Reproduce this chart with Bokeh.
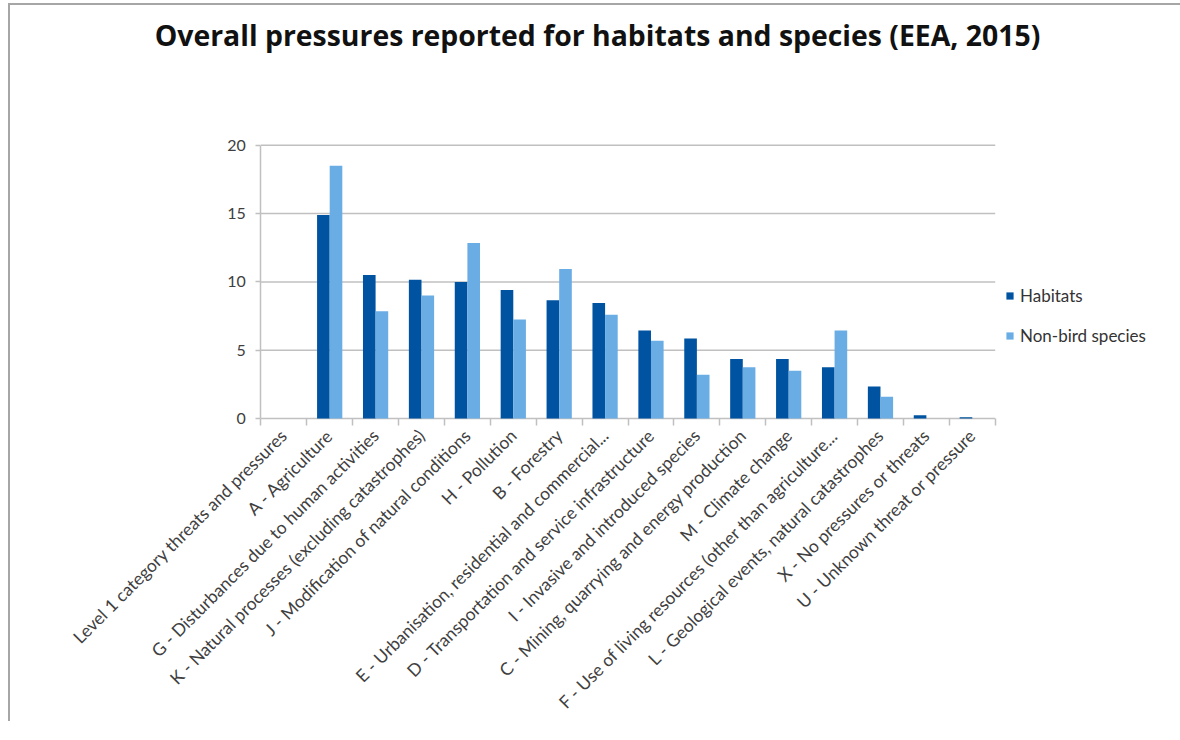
from math import pi
from bokeh.plotting import figure
from bokeh.models import (ColumnDataSource, Range1d, FixedTicker, Legend, LegendItem, Label)
from bokeh.transform import dodge
from bokeh.embed import file_html
from bokeh.resources import INLINE

# ---------------- data ----------------
categories = [
    "Level 1 category threats and pressures",
    "A - Agriculture",
    "G - Disturbances due to human activities",
    "K - Natural processes (excluding catastrophes)",
    "J - Modification of natural conditions",
    "H - Pollution",
    "B - Forestry",
    "E - Urbanisation, residential and commercial...",
    "D - Transportation and service infrastructure",
    "I - Invasive and introduced species",
    "C - Mining, quarrying and energy production",
    "M - Climate change",
    "F - Use of living resources (other than agriculture...",
    "L - Geological events, natural catastrophes",
    "X - No pressures or threats",
    "U - Unknown threat or pressure",
]
habitats = [0, 14.9, 10.5, 10.15, 10.0, 9.4, 8.65, 8.45, 6.45, 5.85, 4.35, 4.35, 3.75, 2.35, 0.25, 0.1]
non_bird = [0, 18.5, 7.85, 9.0, 12.85, 7.25, 10.95, 7.6, 5.7, 3.2, 3.75, 3.5, 6.45, 1.6, 0, 0]
y_ticks = [0, 5, 10, 15, 20]
series_names = ["Habitats", "Non-bird species"]
title_text = "Overall pressures reported for habitats and species (EEA, 2015)"

DARK = "#0053A1"
LIGHT = "#6AADE4"
GRID = "#C0C0C0"
TXT = "#404040"
FONT = "Lato"

n = len(categories)
centers = [i + 0.5 for i in range(n)]
src = ColumnDataSource(dict(pos=centers, cat=categories, habitats=habitats, non_bird=non_bird))
grid_src = ColumnDataSource(dict(y=y_ticks, x0=[0] * len(y_ticks), x1=[n] * len(y_ticks)))

# The plot frame spans the whole free area (title and legend live inside it);
# the y axis is pinned to the data origin and both axes are bounded to the data area.
p = figure(
    x_range=Range1d(-4.147, 20.08),
    y_range=Range1d(-0.507, 30.22),
    width=1170, height=716,
    output_backend="svg", toolbar_location=None,
    title=None,
    min_border_left=60, min_border_right=0,
    min_border_top=0, min_border_bottom=292,
)
p.margin = (3, 0, 0, 8)
p.styles = {"border-left": "2px solid #A6A6A6", "border-top": "2px solid #A6A6A6",
            "box-sizing": "content-box", "overflow": "hidden"}
p.outline_line_color = None
p.background_fill_color = "white"
p.border_fill_color = "white"
p.xgrid.visible = False
p.ygrid.visible = False

# horizontal gridlines (the one at 0 is the category axis line)
p.segment(x0="x0", x1="x1", y0="y", y1="y", source=grid_src,
          line_color=GRID, line_width=1.5)

bw = 0.275
r1 = p.vbar(x=dodge("pos", -bw / 2), top="habitats", width=bw,
            source=src, fill_color=DARK, line_color=None)
r2 = p.vbar(x=dodge("pos", bw / 2), top="non_bird", width=bw,
            source=src, fill_color=LIGHT, line_color=None)

# y axis
ya = p.yaxis[0]
ya.fixed_location = 0
ya.ticker = FixedTicker(ticks=y_ticks)
ya.bounds = (y_ticks[0], y_ticks[-1])
ya.axis_line_color = GRID
ya.axis_line_width = 1.5
ya.major_tick_line_color = GRID
ya.major_tick_line_width = 1.5
ya.major_tick_out = 5
ya.major_tick_in = 0
ya.minor_tick_line_color = None
ya.major_label_text_font = FONT
ya.major_label_text_font_size = "16px"
ya.major_label_text_color = TXT
ya.major_label_standoff = 10

# x axis: labels at category centres, tick marks at category boundaries
xa = p.xaxis[0]
xa.ticker = FixedTicker(ticks=centers, minor_ticks=list(range(n + 1)))
xa.bounds = (0, n)
xa.major_label_overrides = {c: lab for c, lab in zip(centers, categories)}
xa.axis_line_color = None
xa.major_tick_line_color = None
xa.major_tick_out = 0
xa.major_tick_in = 0
xa.minor_tick_line_color = GRID
xa.minor_tick_line_width = 1.5
xa.minor_tick_out = 0
xa.minor_tick_in = 7
xa.major_label_orientation = pi / 4
xa.major_label_standoff = 7
xa.major_label_text_font = FONT
xa.major_label_text_font_size = "17.5px"
xa.major_label_text_color = TXT

# legend
legend = Legend(items=[LegendItem(label=series_names[0], renderers=[r1]),
                       LegendItem(label=series_names[1], renderers=[r2])],
                location=(935, 79), glyph_width=9, glyph_height=9,
                label_height=20, label_standoff=6, spacing=19, padding=0, margin=0,
                border_line_color=None, background_fill_alpha=0,
                label_text_font=FONT, label_text_font_size="17px",
                label_text_color="#333333")
p.add_layout(legend, "center")

# title
title = Label(x=527, y=391, x_units="screen", y_units="screen", text=title_text,
              text_align="center", text_baseline="middle",
              text_font="Open Sans", text_font_style="bold", text_font_size="28.4px",
              text_color="#111111")
p.add_layout(title)

open("out.html", "w").write(file_html(p, INLINE))
